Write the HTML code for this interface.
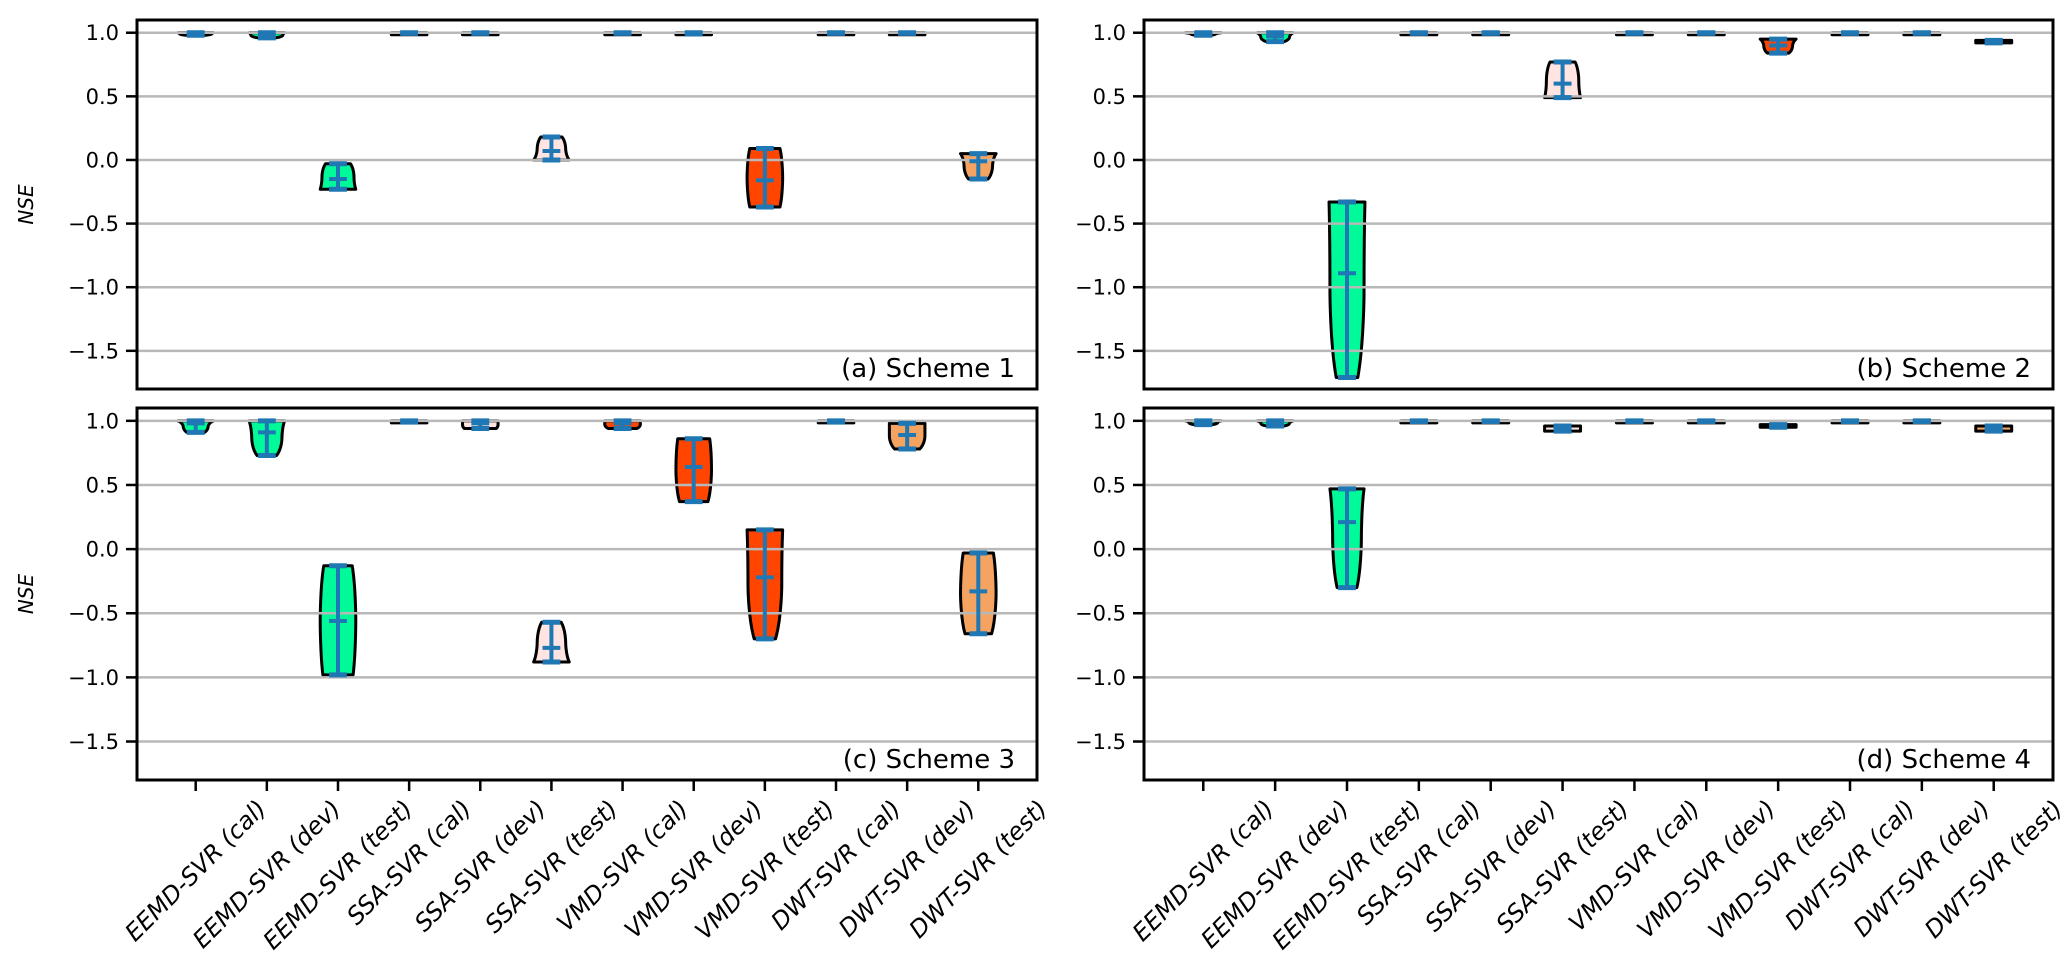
<!DOCTYPE html>
<html><head><meta charset="utf-8">
<style>
html,body{margin:0;padding:0;background:#fff;}
svg{display:block;}
text{font-family:"DejaVu Sans","Liberation Sans",sans-serif;fill:#000;}
</style></head>
<body>
<svg id="chart" width="2067" height="967" viewBox="0 0 2067 967" xmlns="http://www.w3.org/2000/svg"></svg>
<script>
const categories = ["EEMD-SVR (cal)","EEMD-SVR (dev)","EEMD-SVR (test)","SSA-SVR (cal)","SSA-SVR (dev)","SSA-SVR (test)","VMD-SVR (cal)","VMD-SVR (dev)","VMD-SVR (test)","DWT-SVR (cal)","DWT-SVR (dev)","DWT-SVR (test)"];
const yTicks = [1.0, 0.5, 0.0, -0.5, -1.0, -1.5];
const yTickLabels = ["1.0","0.5","0.0","\u22120.5","\u22121.0","\u22121.5"];
const panelTitles = ["(a) Scheme 1","(b) Scheme 2","(c) Scheme 3","(d) Scheme 4"];
const s1Min  = [0.98,0.96,-0.23,0.995,0.995,0.0,0.995,0.99,-0.37,0.995,0.995,-0.15];
const s1Max  = [1.0,1.0,-0.03,1.0,1.0,0.18,1.0,1.0,0.09,1.0,1.0,0.05];
const s1Mean = [0.99,0.98,-0.15,1.0,1.0,0.07,1.0,1.0,-0.16,1.0,1.0,-0.01];
const s2Min  = [0.98,0.93,-1.71,0.995,0.995,0.49,0.995,0.995,0.84,0.995,0.995,0.92];
const s2Max  = [1.0,1.0,-0.33,1.0,1.0,0.77,1.0,1.0,0.95,1.0,1.0,0.94];
const s2Mean = [0.99,0.97,-0.89,1.0,1.0,0.60,1.0,1.0,0.90,1.0,1.0,0.93];
const s3Min  = [0.91,0.73,-0.98,0.99,0.94,-0.88,0.94,0.37,-0.70,0.99,0.78,-0.66];
const s3Max  = [1.0,1.0,-0.13,1.0,1.0,-0.57,1.0,0.86,0.15,1.0,0.98,-0.03];
const s3Mean = [0.98,0.91,-0.56,1.0,0.98,-0.77,0.98,0.64,-0.22,1.0,0.89,-0.33];
const s4Min  = [0.97,0.96,-0.30,0.995,0.995,0.92,0.995,0.995,0.95,0.995,0.995,0.92];
const s4Max  = [1.0,1.0,0.47,1.0,1.0,0.96,1.0,1.0,0.97,1.0,1.0,0.96];
const s4Mean = [0.98,0.98,0.21,1.0,1.0,0.94,1.0,1.0,0.96,1.0,1.0,0.94];
const s1Top = [1,1,0.7,1,1,0.6,1,1,0.85,1,1,1];
const s1Mid = [0.9,0.9,0.9,1,1,0.8,1,1,1,1,1,0.8];
const s1Bot = [0.5,0.5,1,1,1,1,1,1,0.85,1,1,0.55];
const s2Top = [1,1,1,1,1,0.7,1,1,1,1,1,1];
const s2Mid = [0.7,0.8,0.95,1,1,0.9,1,1,0.8,1,1,1];
const s2Bot = [0.4,0.5,0.6,1,1,1,1,1,0.6,1,1,1];
const s3Top = [1,1,0.8,1,1,0.55,1,0.9,1,1,1,0.85];
const s3Mid = [0.7,0.85,1,1,1,0.8,1,1,0.95,1,1,1];
const s3Bot = [0.5,0.55,0.85,1,0.9,1,0.8,0.8,0.6,1,0.7,0.75];
const s4Top = [1,1,0.95,1,1,1,1,1,1,1,1,1];
const s4Mid = [0.8,0.8,0.8,1,1,1,1,1,1,1,1,1];
const s4Bot = [0.5,0.5,0.55,1,1,1,1,1,1,1,1,1];
const fills = ["#00FA9A","#00FA9A","#00FA9A","#FFE4E1","#FFE4E1","#FFE4E1","#FF4500","#FF4500","#FF4500","#F4A460","#F4A460","#F4A460"];

const schemes = [
  {min:s1Min,max:s1Max,mean:s1Mean,top:s1Top,mid:s1Mid,bot:s1Bot},
  {min:s2Min,max:s2Max,mean:s2Mean,top:s2Top,mid:s2Mid,bot:s2Bot},
  {min:s3Min,max:s3Max,mean:s3Mean,top:s3Top,mid:s3Mid,bot:s3Bot},
  {min:s4Min,max:s4Max,mean:s4Mean,top:s4Top,mid:s4Mid,bot:s4Bot}
];
const panels = [
  {x0:137,x1:1037,y0:20,y1:389},
  {x0:1144,x1:2053,y0:20,y1:389},
  {x0:137,x1:1037,y0:408,y1:780},
  {x0:1144,x1:2053,y0:408,y1:780}
];
const NS="http://www.w3.org/2000/svg";
const svg=document.getElementById('chart');
function el(tag,attrs,parent){const e=document.createElementNS(NS,tag);for(const k in attrs)e.setAttribute(k,attrs[k]);(parent||svg).appendChild(e);return e;}
const XMIN=0.175,XMAX=12.825,YMIN=-1.8,YMAX=1.1;
const BLUE="#1f77b4";

panels.forEach((p,pi)=>{
  const sx=v=>p.x0+(v-XMIN)/(XMAX-XMIN)*(p.x1-p.x0);
  const sy=v=>p.y1-(v-YMIN)/(YMAX-YMIN)*(p.y1-p.y0);
  const unit=(p.x1-p.x0)/(XMAX-XMIN);
  const g=el('g',{});
  
  
  const d=schemes[pi];
  categories.forEach((c,i)=>{
    const cx=sx(i+1);
    const hw=0.25*unit;
    let yt=sy(d.max[i]), yb=sy(d.min[i]);
    if(yb-yt<2){yb=yt+2;}
    const ym=(yt+yb)/2;
    const wt=hw*d.top[i], wm=hw*d.mid[i], wb=hw*d.bot[i];
    const path=`M${cx-wt},${yt} L${cx+wt},${yt} C${cx+wm},${yt+(ym-yt)*0.4} ${cx+wm},${ym} ${cx+wm},${ym} C${cx+wm},${ym} ${cx+wm},${yb-(yb-ym)*0.4} ${cx+wb},${yb} L${cx-wb},${yb} C${cx-wm},${yb-(yb-ym)*0.4} ${cx-wm},${ym} ${cx-wm},${ym} C${cx-wm},${ym} ${cx-wm},${yt+(ym-yt)*0.4} ${cx-wt},${yt} Z`;
    const v=el('path',{d:path,fill:fills[i],stroke:'#000','stroke-width':3,'stroke-linejoin':'round'},g);
    
    
  });
  yTicks.forEach((t,k)=>{
    const gl=el('line',{x1:p.x0,x2:p.x1,y1:sy(t),y2:sy(t),stroke:'#b8b8b8','stroke-width':2.5},g);
    
    
    const tm=el('line',{x1:p.x0-11,x2:p.x0,y1:sy(t),y2:sy(t),stroke:'#000','stroke-width':2.5},g);
    
    
    const tl=el('text',{x:p.x0-18,y:sy(t)+7.5,'text-anchor':'end','font-size':21},g);
    tl.textContent=yTickLabels[k];
    
    
  });
  categories.forEach((c,i)=>{
    const cx=sx(i+1);
    const cw=0.125*unit;
    const yt=sy(d.max[i]), yb=sy(d.min[i]), ym=sy(d.mean[i]);
    const b=el('line',{x1:cx,x2:cx,y1:yt,y2:yb,stroke:BLUE,'stroke-width':4},g);
    
    
    [yt,yb,ym].forEach((yy,j)=>{
      const l=el('line',{x1:cx-cw,x2:cx+cw,y1:yy,y2:yy,stroke:BLUE,'stroke-width':j==2?4:5},g);
      
      
    });
    if(pi>=2){
      const xt=el('line',{x1:cx,x2:cx,y1:p.y1,y2:p.y1+11,stroke:'#000','stroke-width':2.5},g);
      
      
      const t=el('text',{'font-size':24,'font-style':'italic','text-anchor':'middle'},g);
      t.textContent=c;
      
      
      const L=t.getComputedTextLength();
      const cy=p.y1+16+(L*0.707+24*0.707)/2;
      t.setAttribute('x',cx);t.setAttribute('y',cy+8);
      t.setAttribute('transform',`rotate(-45 ${cx} ${cy})`);
    }
  });
  const f=el('rect',{x:p.x0,y:p.y0,width:p.x1-p.x0,height:p.y1-p.y0,fill:'none',stroke:'#000','stroke-width':3},g);
  
  
  const tt=el('text',{x:p.x1-22,y:p.y1-12,'text-anchor':'end','font-size':26},g);
  tt.textContent=panelTitles[pi];
  
  
  if(pi%2==0){
    const yl=(p.y0+p.y1)/2;
    const t=el('text',{x:26,y:yl,'text-anchor':'middle','font-size':20,'font-style':'italic',transform:`rotate(-90 26 ${yl}) translate(0 7)`},g);
    t.textContent='NSE';
    
    
  }
});
</script>
</body></html>
